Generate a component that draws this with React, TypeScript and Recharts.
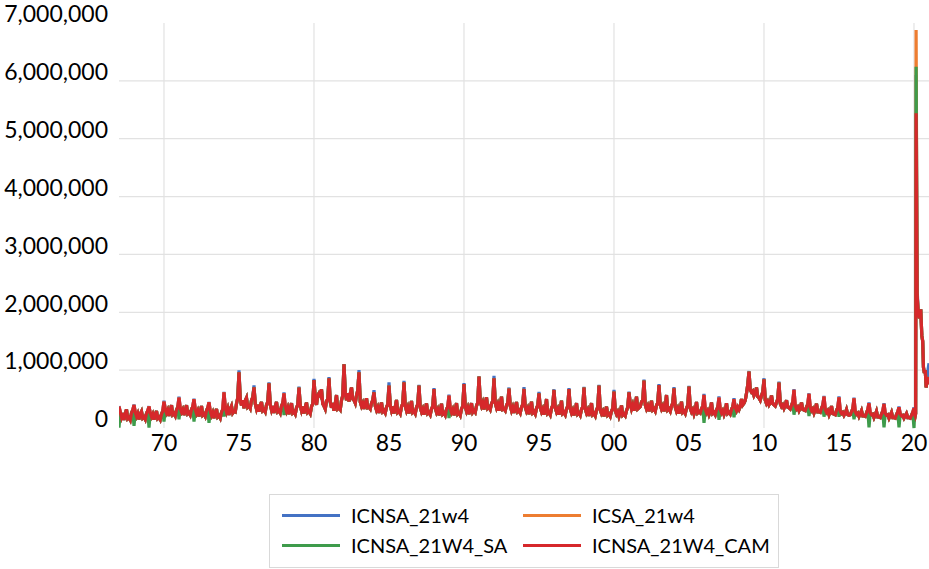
import React from 'react';
import { LineChart, Line, XAxis, YAxis, CartesianGrid } from 'recharts';

// Monthly estimates (thousands), Jan..Dec, for the CAM series (drawn on top)
const years: number[] = [
  1967, 1968, 1969, 1970, 1971, 1972, 1973, 1974, 1975, 1976,
  1977, 1978, 1979, 1980, 1981, 1982, 1983, 1984, 1985, 1986,
  1987, 1988, 1989, 1990, 1991, 1992, 1993, 1994, 1995, 1996,
  1997, 1998, 1999, 2000, 2001, 2002, 2003, 2004, 2005, 2006,
  2007, 2008, 2009, 2010, 2011, 2012, 2013, 2014, 2015, 2016,
  2017, 2018, 2019,
];

const camMonthly: number[][] = [
  [369, 280, 190, 260, 140, 250, 320, 160, 180, 140, 260, 310],
  [397, 270, 200, 250, 150, 240, 285, 170, 190, 150, 250, 300],
  [369, 260, 195, 240, 145, 230, 295, 165, 185, 145, 240, 290],
  [455, 330, 260, 310, 210, 300, 395, 230, 250, 210, 310, 360],
  [524, 340, 275, 320, 225, 310, 395, 245, 265, 225, 320, 370],
  [495, 320, 250, 300, 200, 290, 380, 220, 240, 200, 300, 350],
  [443, 290, 220, 270, 170, 260, 330, 190, 210, 170, 270, 320],
  [616, 360, 275, 340, 225, 330, 380, 260, 290, 280, 420, 520],
  [962, 500, 390, 480, 340, 470, 520, 360, 380, 340, 480, 530],
  [703, 420, 330, 400, 280, 390, 450, 300, 320, 280, 400, 450],
  [772, 400, 310, 380, 260, 370, 450, 280, 300, 260, 380, 430],
  [599, 370, 290, 350, 240, 340, 430, 260, 280, 240, 350, 400],
  [697, 390, 300, 370, 250, 360, 440, 270, 290, 250, 370, 420],
  [829, 520, 400, 560, 600, 560, 668, 420, 380, 330, 460, 500],
  [858, 450, 350, 430, 300, 420, 570, 330, 350, 320, 480, 560],
  [1100, 620, 480, 600, 460, 590, 700, 500, 480, 430, 560, 650],
  [962, 450, 380, 430, 330, 420, 513, 350, 360, 330, 430, 480],
  [616, 380, 310, 360, 260, 350, 440, 280, 300, 260, 360, 410],
  [731, 390, 300, 370, 250, 360, 484, 270, 290, 250, 370, 420],
  [789, 380, 300, 360, 250, 350, 467, 270, 290, 250, 360, 410],
  [731, 350, 280, 330, 230, 320, 426, 250, 270, 230, 330, 380],
  [674, 340, 270, 320, 220, 310, 420, 240, 260, 220, 320, 370],
  [559, 340, 270, 320, 220, 310, 430, 240, 260, 220, 330, 380],
  [760, 370, 290, 350, 240, 340, 430, 270, 300, 270, 380, 440],
  [887, 460, 380, 440, 320, 430, 530, 340, 360, 320, 420, 470],
  [858, 430, 350, 410, 300, 400, 541, 320, 330, 300, 390, 440],
  [680, 380, 300, 360, 260, 350, 450, 280, 300, 260, 360, 410],
  [674, 360, 290, 340, 240, 330, 455, 260, 280, 240, 340, 390],
  [599, 350, 280, 330, 230, 320, 501, 250, 270, 230, 340, 390],
  [657, 350, 280, 330, 230, 320, 472, 250, 270, 230, 330, 380],
  [674, 330, 260, 310, 220, 300, 430, 240, 260, 220, 320, 370],
  [697, 330, 260, 310, 210, 300, 430, 230, 250, 210, 310, 360],
  [731, 310, 250, 290, 200, 280, 369, 220, 240, 200, 290, 340],
  [628, 300, 240, 280, 200, 270, 390, 220, 240, 210, 300, 360],
  [616, 420, 330, 400, 300, 390, 541, 330, 350, 370, 450, 480],
  [818, 400, 330, 380, 290, 370, 470, 310, 330, 290, 390, 440],
  [743, 400, 330, 380, 290, 370, 570, 310, 330, 290, 380, 430],
  [685, 360, 290, 340, 250, 330, 455, 270, 290, 250, 340, 390],
  [714, 340, 280, 320, 240, 310, 450, 260, 280, 260, 330, 380],
  [570, 320, 260, 300, 230, 290, 440, 250, 270, 230, 310, 360],
  [524, 320, 260, 300, 230, 290, 430, 250, 270, 240, 320, 370],
  [495, 350, 300, 360, 320, 380, 500, 400, 430, 480, 600, 750],
  [973, 660, 620, 640, 560, 600, 700, 540, 520, 480, 560, 620],
  [841, 480, 420, 460, 400, 440, 560, 420, 400, 380, 440, 500],
  [783, 420, 370, 400, 340, 390, 480, 360, 350, 330, 390, 450],
  [657, 380, 330, 360, 300, 350, 440, 320, 310, 300, 360, 410],
  [588, 350, 300, 330, 260, 320, 420, 280, 280, 270, 340, 390],
  [541, 320, 270, 300, 230, 290, 380, 250, 240, 230, 300, 350],
  [530, 290, 250, 270, 220, 260, 320, 230, 220, 230, 280, 330],
  [513, 280, 240, 260, 200, 250, 300, 210, 210, 200, 260, 320],
  [426, 260, 230, 240, 180, 230, 290, 190, 190, 180, 240, 290],
  [415, 250, 220, 230, 170, 220, 270, 180, 180, 170, 230, 280],
  [357, 240, 210, 220, 170, 210, 250, 180, 180, 170, 220, 270],
];

// ICNSA January peaks (thousands), 1967..2019 — slightly above CAM
const nsaJanuary: number[] = [
  380, 405, 375, 470, 540, 505, 450, 625, 995, 735,
  790, 615, 715, 850, 880, 1105, 1000, 655, 790, 815,
  745, 690, 575, 775, 895, 900, 700, 705, 625, 670,
  690, 710, 745, 660, 630, 835, 760, 705, 730, 590,
  545, 515, 985, 860, 800, 670, 600, 555, 545, 525,
  440, 430, 370,
];

// SA series January dips (year, thousands)
const saJanuaryDips: [number, number][] = [
  [1967, 5], [1968, 35], [1969, 5], [1970, 110], [1971, 150], [1972, 110],
  [1973, 90], [1974, 200], [1978, 225], [1989, 170], [2006, 90], [2007, 140],
  [2008, 185], [2012, 230], [2013, 207], [2014, 196], [2015, 196], [2016, 150],
  [2017, 12], [2018, 12], [2019, 12],
];

// 2020 – Jan 2021 (thousands)
const covidTimes: number[] = [
  2020.0, 2020.04, 2020.08, 2020.11, 2020.14, 2020.21, 2020.28, 2020.36, 2020.45,
  2020.52, 2020.58, 2020.63, 2020.69, 2020.75, 2020.81, 2020.87, 2020.93, 2021.0,
];
const covidCam: number[] = [340, 240, 210, 250, 5440, 2300, 2000, 1900, 2050, 1600, 1500, 1050, 950, 1000, 700, 820, 760, 880];
const covidNsa: number[] = [355, 240, 210, 250, 6100, 2400, 2000, 1900, 2050, 1600, 1500, 1050, 950, 1000, 700, 820, 1000, 1120];
const covidSa: number[] = [0, 240, 210, 250, 6244, 2300, 2000, 1900, 2050, 1600, 1500, 1050, 950, 1000, 700, 820, 760, 880];
const covidIcsa: number[] = [340, 240, 210, 250, 6877, 2300, 2000, 1900, 2050, 1600, 1500, 1050, 950, 1000, 700, 820, 760, 880];

const xTicks: number[] = [1970, 1975, 1980, 1985, 1990, 1995, 2000, 2005, 2010, 2015, 2020];
const xGrid: number[] = [1970, 1980, 1990, 2000, 2010, 2020];
const yTicks: number[] = [0, 1000000, 2000000, 3000000, 4000000, 5000000, 6000000, 7000000];
const yGrid: number[] = [1000000, 2000000, 3000000, 4000000, 5000000, 6000000];

const series = [
  { key: 'nsa', name: 'ICNSA_21w4', color: '#4472C4' },
  { key: 'icsa', name: 'ICSA_21w4', color: '#ED7D31' },
  { key: 'sa', name: 'ICNSA_21W4_SA', color: '#3E9B4B' },
  { key: 'cam', name: 'ICNSA_21W4_CAM', color: '#D6282B' },
];

const dipMap = new Map<number, number>(saJanuaryDips);

const data: any[] = [];
years.forEach((y, i) => {
  camMonthly[i].forEach((v, m) => {
    const jan = m === 0;
    data.push({
      t: y + m / 12,
      cam: v * 1000,
      nsa: (jan ? nsaJanuary[i] : v) * 1000,
      sa: (jan && dipMap.has(y) ? (dipMap.get(y) as number) : v) * 1000,
      icsa: v * 1000,
    });
  });
});
covidTimes.forEach((t, i) => {
  data.push({
    t,
    cam: covidCam[i] * 1000,
    nsa: covidNsa[i] * 1000,
    sa: covidSa[i] * 1000,
    icsa: covidIcsa[i] * 1000,
  });
});

const FONT = 'Lato, "Noto Sans", sans-serif';

const YTick = (props: any) => {
  const { x, y, payload } = props;
  return (
    <text x={x - 11} y={y - 9} dy="0.36em" textAnchor="end" fontFamily={FONT} fontSize={23} fill="#000">
      {Number(payload.value).toLocaleString('en-US')}
    </text>
  );
};

const XTick = (props: any) => {
  const { x, y, payload } = props;
  const yr = Number(payload.value) % 100;
  return (
    <text x={x} y={y + 15} dy="0.36em" textAnchor="middle" fontFamily={FONT} fontSize={23} fill="#000">
      {String(yr).padStart(2, '0')}
    </text>
  );
};

export default function App() {
  return (
    <div style={{ position: 'absolute', left: 0, top: 0, width: 929, height: 569, background: '#fff' }}>
      <LineChart width={929} height={569} data={data} margin={{ top: 23, right: 0, bottom: 111, left: 0 }}>
        <CartesianGrid stroke="#e2e2e2" strokeWidth={1.2} horizontalValues={yGrid} verticalValues={xGrid} />
        <XAxis
          dataKey="t"
          type="number"
          domain={[1967, 2021]}
          ticks={xTicks}
          allowDataOverflow
          axisLine={false}
          tickLine={false}
          tickSize={0}
          tickMargin={0}
          height={30}
          tick={<XTick />}
          interval={0}
        />
        <YAxis
          type="number"
          domain={[0, 7000000]}
          ticks={yTicks}
          axisLine={false}
          tickLine={false}
          tickSize={0}
          tickMargin={0}
          width={119}
          tick={<YTick />}
          interval={0}
        />
        {series.map((s) => (
          <Line
            key={s.key}
            dataKey={s.key}
            name={s.name}
            stroke={s.color}
            strokeWidth={3.2}
            dot={false}
            activeDot={false}
            type="linear"
            isAnimationActive={false}
          />
        ))}
      </LineChart>
      <div
        style={{
          position: 'absolute',
          left: 269,
          top: 494,
          width: 510,
          height: 74,
          border: '1px solid #d9d9d9',
          boxSizing: 'border-box',
          fontFamily: FONT,
          fontSize: 20,
          color: '#000',
        }}
      >
        {series.map((s, i) => {
          const col = i % 2;
          const row = Math.floor(i / 2);
          return (
            <div
              key={s.key}
              style={{
                position: 'absolute',
                left: col === 0 ? 12 : 253,
                top: row === 0 ? 7 : 37,
                height: 26,
                display: 'flex',
                alignItems: 'center',
                whiteSpace: 'nowrap',
              }}
            >
              <span style={{ display: 'inline-block', width: 58, height: 3, background: s.color, marginRight: 11 }} />
              <span>{s.name}</span>
            </div>
          );
        })}
      </div>
    </div>
  );
}
